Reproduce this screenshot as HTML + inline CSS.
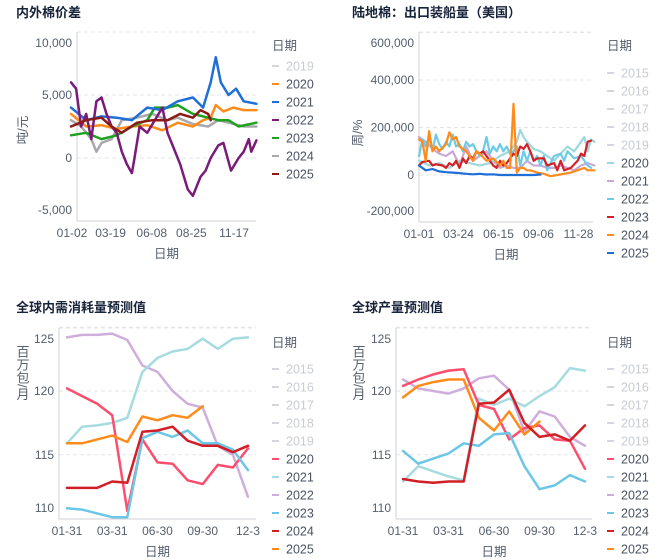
<!DOCTYPE html>
<html><head><meta charset="utf-8">
<style>
html,body{margin:0;padding:0;background:#fff;}
svg{display:block;font-family:"Liberation Sans","Noto Sans CJK SC",sans-serif;}
.t{font-size:13px;font-weight:bold;fill:#17233a;}
.tick{font-size:12px;fill:#555e6e;}
.ax{font-size:12.5px;fill:#555e6e;}
</style></head>
<body>
<svg id="s" width="658" height="560" viewBox="0 0 658 560">
<text class="t" x="16" y="17">内外棉价差</text>
<text class="t" x="352" y="17">陆地棉：出口装船量（美国）</text>
<text class="t" x="16" y="312">全球内需消耗量预测值</text>
<text class="t" x="352" y="312">全球产量预测值</text>
</svg>
<script>
// ---------- Chart 1 data (day-of-year, value) ----------
const c1Years = ["2019","2020","2021","2022","2023","2024","2025"];
const c1TickLabels = ["01-02","03-19","06-08","08-25","11-17"];
const c1TickDays = [2,78,159,237,321];
const c1YTicks = [10000,5000,0,-5000];
const c1Days2020 = [0,30,60,90,120,150,180,210,240,260,275,285,300,320,340,365];
const c1Vals2020 = [3500,2500,2600,2300,2500,2600,2200,2800,2500,3000,3200,4200,3700,4000,3800,3800];
const c1Days2021 = [0,30,60,90,120,150,180,210,240,260,275,285,295,310,325,340,365];
const c1Vals2021 = [4000,3000,3300,3200,3000,4000,3800,4500,4800,4000,6000,8000,6000,5000,5500,4500,4300];
const c1Days2022 = [0,10,20,30,40,50,60,70,80,90,100,110,120,125,135,150,165,180,190,200,215,230,240,255,265,275,290,300,315,330,340,350,355,365];
const c1Vals2022 = [6000,5500,2500,3500,1500,4500,4800,3500,2500,2000,500,-500,-1200,0,2500,2000,3000,4000,2000,1000,-500,-2500,-3000,-1500,-1000,0,1000,1200,-1000,0,500,1500,500,1400];
const c1Days2023 = [0,30,60,90,120,150,165,190,210,240,270,290,310,330,365];
const c1Vals2023 = [1800,2000,1500,1800,2500,3000,4000,4000,4200,3500,3200,3000,3000,2500,2800];
const c1Days2024 = [0,20,40,50,60,80,100,130,160,190,210,240,270,290,310,340,365];
const c1Vals2024 = [3000,2500,1500,500,1200,1500,3000,3200,3500,3000,3200,2700,2500,3000,2800,2500,2500];
const c1Days2025 = [0,30,60,80,100,130,160,190,215,240,255,270,275];
const c1Vals2025 = [2500,3000,3200,2500,2000,2800,3000,3000,3500,3200,3800,3500,3000];

// ---------- Chart 2 data (week index, thousand bales) ----------
const c2Years = ["2015","2016","2017","2018","2019","2020","2021","2022","2023","2024","2025"];
const c2TickLabels = ["01-01","03-24","06-15","09-06","11-28"];
const c2TickDays = [0,82,165,248,331];
const c2YTicks = [600000,400000,200000,0,-200000];
const c2Wk2020 = [0,3,6,9,12,15,18,21,24,27,29,30,31,32,34,36,38,40,42,44,46,48,49,50,51,52];
const c2Val2020 = [60,40,50,30,60,50,40,50,80,100,140,190,160,140,110,100,80,60,90,120,100,140,160,100,150,140];
const c2Wk2021 = [0,2,4,6,8,10,12,14,16,18,20,22,24,26,28,30,32,34,36,38,40,42,44,46,48,50,52];
const c2Val2021 = [160,140,110,90,80,100,40,120,60,80,100,60,30,40,30,30,60,40,40,30,30,40,30,20,40,50,40];
const c2Wk2022 = [0,1,2,3,4,5,6,7,8,9,10,11,12,13,14,15,16,17,18,19,20,21,22,23,24,25,26,27,28,29,30,31,32,33,34,35,36,37,38,40,42,43,44,46,48,50,51];
const c2Val2022 = [80,150,120,160,100,170,130,110,140,120,170,120,130,100,140,120,130,100,80,100,160,90,120,100,130,100,120,90,100,120,40,100,60,100,60,80,40,80,20,80,90,60,100,70,80,40,30];
const c2Wk2023 = [0,1,3,4,5,7,8,9,10,11,12,13,14,15,16,17,18,19,20,21,22,23,24,25,26,27,28,29,30,31,32,33,34,35,37,38,40,41,42,43,45,47,48,49,50,51];
const c2Val2023 = [40,55,60,40,45,40,30,50,40,60,30,70,50,80,70,100,90,100,80,60,40,30,60,40,50,70,90,80,120,110,130,100,60,70,70,40,50,20,60,20,30,60,90,80,140,145];
const c2Wk2024 = [0,1,2,3,4,5,6,8,9,10,11,12,14,16,17,18,20,22,24,25,26,27,28,29,30,31,32,33,35,37,39,41,43,45,47,49,50,52];
const c2Val2024 = [150,140,60,185,100,120,100,130,180,150,160,120,100,60,100,90,60,70,40,60,30,30,300,10,30,30,20,20,10,5,-5,0,5,10,20,30,20,20];
const c2Wk2025 = [0,2,4,6,8,10,12,14,16,18,20,22,24,26,28,30,32,34,36];
const c2Val2025 = [40,20,25,15,12,10,8,5,3,5,2,3,0,0,0,0,0,0,2];

// ---------- Chart 3 data (13 monthly estimates) ----------
const c3Years = ["2015","2016","2017","2018","2019","2020","2021","2022","2023","2024","2025"];
const c3TickLabels = ["01-31","03-31","06-30","09-30","12-3"];
const c3TickIdx = [0,3,6,9,12];
const c3YTicks = [125,120,115,110];
const c3Val2020 = [120.2,119.6,119.0,118.1,110.6,116.2,114.4,114.3,113.0,112.7,114.2,114.0,115.5];
const c3Val2021 = [115.9,117.2,117.3,117.5,117.9,121.5,122.6,123.1,123.3,124.1,123.3,124.1,124.2];
const c3Val2022 = [124.2,124.4,124.4,124.5,124.0,122.0,121.5,120.0,119.0,118.7,115.7,115.0,111.7];
const c3Val2023 = [110.8,110.7,110.4,110.1,110.1,116.3,116.8,116.4,116.9,115.9,115.9,115.4,113.8];
const c3Val2024 = [112.4,112.4,112.4,112.9,112.8,116.8,116.9,117.2,116.1,115.7,115.7,115.2,115.7];
const c3Val2025 = [115.9,115.9,116.2,116.5,116.0,118.0,117.7,118.1,117.9,118.8];

// ---------- Chart 4 data ----------
const c4Val2020 = [120.4,120.9,121.3,121.6,121.7,118.9,118.6,116.2,117.1,117.3,116.2,116.1,113.9];
const c4Val2021 = [112.9,114.1,113.7,113.3,113.0,119.4,118.9,119.4,118.8,119.6,120.3,121.8,121.6];
const c4Val2022 = [120.9,120.2,120.0,119.8,120.2,121.0,121.2,120.1,116.8,118.4,118.0,116.4,115.7];
const c4Val2023 = [115.3,114.3,114.7,115.1,115.9,115.7,116.6,116.7,114.1,112.3,112.6,113.4,112.9];
const c4Val2024 = [113.1,112.9,112.8,112.9,112.9,119.0,119.1,120.1,117.5,116.4,116.6,116.1,117.3];
const c4Val2025 = [119.5,120.4,120.7,120.9,120.9,117.9,116.9,118.4,116.6,117.6];

const NS = "http://www.w3.org/2000/svg";
const svg = document.getElementById('s');
function mk(tag, attrs, parent){
  const e = document.createElementNS(NS, tag);
  for (const k in attrs) e.setAttribute(k, attrs[k]);
  (parent||svg).appendChild(e);
  return e;
}
const fmt = v => v.toLocaleString('en-US');

function drawFrame(p, prefix){
  const g = mk('g', {});
  
  
  p.yTicks.forEach(v => {
    const y = p.y(v);
    if (Math.abs(y - p.bottom) > 1) {
      const gl = mk('line', {x1:p.left, x2:p.right, y1:y, y2:y, stroke:'#e3e5e9', 'stroke-dasharray':'4,3'}, g);
      
      
    }
    const ly = Math.min(Math.max(y, p.top + 11), p.bottom - 11);
    const t = mk('text', {x:p.left - 5, y:ly + 4, 'text-anchor':'end', class:'tick'}, g);
    t.textContent = fmt(v);
    
    
  });
  const tl = mk('line', {x1:p.left, x2:p.right, y1:p.top, y2:p.top, stroke:'#e3e5e9', 'stroke-dasharray':'4,3'}, g);
  
  
  const ya = mk('line', {x1:p.left, x2:p.left, y1:p.top, y2:p.bottom, stroke:'#cfd2d8'}, g);
  
  
  const xa = mk('line', {x1:p.left, x2:p.right, y1:p.bottom, y2:p.bottom, stroke:'#cfd2d8'}, g);
  
  
  p.xTicks.forEach((d, i) => {
    const t = mk('text', {x:p.x(d), y:p.bottom + 16, 'text-anchor':'middle', class:'tick'}, g);
    t.textContent = p.xLabels[i];
    
    
  });
  const xt = mk('text', {x:(p.left + p.right) / 2, y:p.bottom + 37, 'text-anchor':'middle', class:'ax'}, g);
  xt.textContent = '日期';
  
  
}

function drawLine(p, xs, ys, color, w, name){
  const d = ys.map((v, i) => (i ? 'L' : 'M') + p.x(xs[i]).toFixed(1) + ',' + p.y(v).toFixed(1)).join('');
  const e = mk('path', {d:d, fill:'none', stroke:color, 'stroke-width':w, 'stroke-linejoin':'round', 'stroke-linecap':'round'});
  
  
}

function drawLegend(x, y0, step, years, colors, prefix, titleY){
  const g = mk('g', {});
  
  
  const tt = mk('text', {x:x, y:titleY, class:'ax'}, g);
  tt.textContent = '日期';
  
  
  years.forEach((yr, i) => {
    const y = y0 + i * step;
    const c = colors[yr];
    const active = !!c;
    const e = mk('g', {}, g);
    
    
    mk('line', {x1:x, x2:x + 7, y1:y, y2:y, stroke: active ? c : '#d3d6dc', 'stroke-width':2}, e);
    const t = mk('text', {x:x + 14, y:y + 4.5, style:'font-size:12.5px;fill:' + (active ? '#4a5263' : '#c9ccd3')}, e);
    t.textContent = yr;
  });
}

// ---------- Chart 1 ----------
const p1 = {left:77, right:256, top:32, bottom:221, yTicks:c1YTicks, xTicks:c1TickDays, xLabels:c1TickLabels};
p1.x = d => 72 + (d - 2) * 0.508;
p1.y = v => 158 - v * 0.0126;
drawFrame(p1, 'chart1');
const c1Colors = {"2020":"#ff8c1a","2021":"#1f6fd6","2022":"#7a1b7a","2023":"#1fa01f","2024":"#a9a9ad","2025":"#8c1a1a"};
drawLine(p1, c1Days2024, c1Vals2024, c1Colors["2024"], 2.5, 'chart1-line-2024');
drawLine(p1, c1Days2020, c1Vals2020, c1Colors["2020"], 2.5, 'chart1-line-2020');
drawLine(p1, c1Days2023, c1Vals2023, c1Colors["2023"], 2.5, 'chart1-line-2023');
drawLine(p1, c1Days2021, c1Vals2021, c1Colors["2021"], 2.5, 'chart1-line-2021');
drawLine(p1, c1Days2022, c1Vals2022, c1Colors["2022"], 2.5, 'chart1-line-2022');
drawLine(p1, c1Days2025, c1Vals2025, c1Colors["2025"], 2.5, 'chart1-line-2025');
drawLegend(272, 66, 18, c1Years, c1Colors, 'chart1', 50);
{
  const t = mk('text', {x:0, y:0, class:'ax', transform:'translate(27,130) rotate(-90)', 'text-anchor':'middle'});
  t.textContent = '吨/元';
  
  
}

// ---------- Chart 2 ----------
const p2 = {left:419, right:593, top:32, bottom:222, yTicks:c2YTicks, xTicks:c2TickDays, xLabels:c2TickLabels};
p2.x = d => 419 + d * 0.482;
p2.y = v => 175 - v * 0.0002375;
drawFrame(p2, 'chart2');
const c2Colors = {"2020":"#9fd8dc","2021":"#c9a8d8","2022":"#6ccbe6","2023":"#d42027","2024":"#ff8c1a","2025":"#1f6fd6"};
const wk = a => a.map(w => w * 7);
const th = a => a.map(v => v * 1000);
drawLine(p2, wk(c2Wk2021), th(c2Val2021), c2Colors["2021"], 2.2, 'chart2-line-2021');
drawLine(p2, wk(c2Wk2020), th(c2Val2020), c2Colors["2020"], 2.2, 'chart2-line-2020');
drawLine(p2, wk(c2Wk2022), th(c2Val2022), c2Colors["2022"], 2.2, 'chart2-line-2022');
drawLine(p2, wk(c2Wk2023), th(c2Val2023), c2Colors["2023"], 2.2, 'chart2-line-2023');
drawLine(p2, wk(c2Wk2024), th(c2Val2024), c2Colors["2024"], 2.2, 'chart2-line-2024');
drawLine(p2, wk(c2Wk2025), th(c2Val2025), c2Colors["2025"], 2.2, 'chart2-line-2025');
drawLegend(607, 73, 18, c2Years, c2Colors, 'chart2', 50);
{
  const t = mk('text', {x:0, y:0, class:'ax', transform:'translate(362,133) rotate(-90)', 'text-anchor':'middle'});
  t.textContent = '周/%';
  
  
}

// ---------- Chart 3 ----------
const c34Colors = {"2020":"#ff4d6d","2021":"#a6dcdf","2022":"#cfaedb","2023":"#6cc6e6","2024":"#d11f26","2025":"#ff8c1a"};
const idx = a => a.map((_, i) => i);
const p3 = {left:59, right:256, top:328, bottom:519, yTicks:c3YTicks, xTicks:c3TickIdx, xLabels:c3TickLabels};
p3.x = i => 67 + i * 15.08;
p3.y = v => 391 - (v - 120) * 12.75;
drawFrame(p3, 'chart3');
[["2022",c3Val2022],["2021",c3Val2021],["2020",c3Val2020],["2023",c3Val2023],["2025",c3Val2025],["2024",c3Val2024]].forEach(([yr, vals]) => {
  drawLine(p3, idx(vals), vals, c34Colors[yr], 2.5, 'chart3-line-' + yr);
});
drawLegend(272, 369, 18, c3Years, c34Colors, 'chart3', 347);
{
  const t = mk('text', {x:22, y:345, class:'ax', style:'writing-mode:vertical-rl;font-size:13px', 'text-anchor':'start'});
  t.textContent = '百万包/月';
  
  
}

// ---------- Chart 4 ----------
const p4 = {left:396, right:592, top:328, bottom:519, yTicks:c3YTicks, xTicks:c3TickIdx, xLabels:c3TickLabels};
p4.x = i => 403 + i * 15.17;
p4.y = v => 391 - (v - 120) * 12.75;
drawFrame(p4, 'chart4');
[["2022",c4Val2022],["2021",c4Val2021],["2020",c4Val2020],["2023",c4Val2023],["2025",c4Val2025],["2024",c4Val2024]].forEach(([yr, vals]) => {
  drawLine(p4, idx(vals), vals, c34Colors[yr], 2.5, 'chart4-line-' + yr);
});
drawLegend(607, 369, 18, c3Years, c34Colors, 'chart4', 347);
{
  const t = mk('text', {x:358, y:345, class:'ax', style:'writing-mode:vertical-rl;font-size:13px', 'text-anchor':'start'});
  t.textContent = '百万包/月';
  
  
}
</script>
</body></html>
